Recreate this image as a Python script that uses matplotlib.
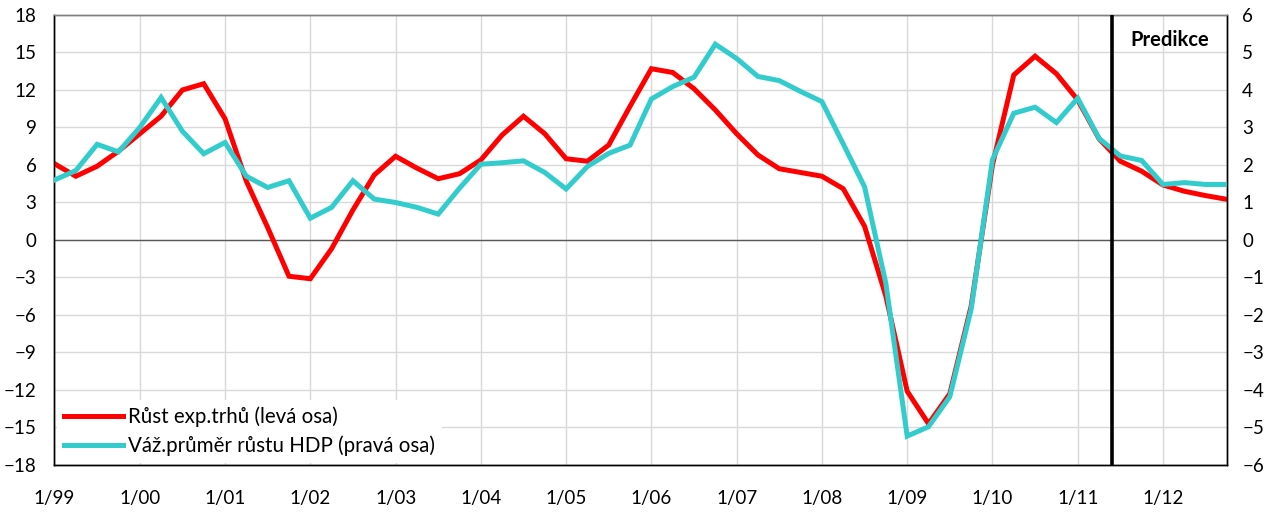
#!/usr/bin/env python3
"""
Export market growth vs weighted GDP growth of trading partners (quarterly, 1999-2012)
"""

import numpy as np
import matplotlib
matplotlib.use('Agg')
import matplotlib.pyplot as plt

plt.rcParams['font.family'] = ['Lato', 'Noto Sans', 'DejaVu Sans']

# Quarterly data, 1Q1999 .. 4Q2012
export_markets = [6.1, 5.1, 5.9, 7.1, 8.5, 9.9, 12.0, 12.5, 9.7, 4.7,
                  1.0, -2.9, -3.1, -0.7, 2.4, 5.2, 6.7, 5.75, 4.9, 5.3,
                  6.4, 8.4, 9.9, 8.5, 6.5, 6.3, 7.6, 10.7, 13.7, 13.4,
                  12.1, 10.4, 8.5, 6.8, 5.7, 5.4, 5.1, 4.1, 1.1, -4.5,
                  -12.1, -14.7, -12.3, -5.3, 6.0, 13.2, 14.7, 13.3, 11.2, 8.1,
                  6.3, 5.5, 4.4, 3.9, 3.55, 3.25]
gdp_weighted = [1.6, 1.85, 2.55, 2.35, 3.0, 3.8, 2.9, 2.3, 2.6, 1.7,
                1.4, 1.58, 0.58, 0.87, 1.58, 1.09, 1.0, 0.87, 0.69, 1.38,
                2.02, 2.06, 2.11, 1.8, 1.36, 1.96, 2.31, 2.53, 3.76, 4.09,
                4.34, 5.22, 4.84, 4.36, 4.25, 3.96, 3.69, 2.56, 1.42, -1.16,
                -5.23, -4.98, -4.18, -1.85, 2.14, 3.38, 3.54, 3.13, 3.78, 2.71,
                2.24, 2.12, 1.48, 1.53, 1.48, 1.48]
year_labels = ['1/99', '1/00', '1/01', '1/02', '1/03', '1/04', '1/05',
               '1/06', '1/07', '1/08', '1/09', '1/10', '1/11', '1/12']
forecast_start = 49.6  # quarter index where the prediction begins

RED = '#FF0000'
CYAN = '#33CCCC'
GRID = '#D9D9D9'


def main():
    quarters = np.arange(len(export_markets))

    fig = plt.figure(figsize=(12.7, 5.13), dpi=100)
    ax = fig.add_axes([0.0429, 0.0936, 0.9232, 0.8772])
    ax2 = ax.twinx()

    # Grid on the left axis
    ax.set_xlim(0, len(quarters) - 1)
    ax.set_ylim(-18, 18)
    ax.set_yticks(np.arange(-18, 19, 3))
    ax.set_xticks(np.arange(0, len(quarters), 4))
    ax.set_xticklabels(year_labels)
    ax.grid(True, color=GRID, linewidth=1)
    ax.set_axisbelow(True)
    ax.axhline(0, color='#595959', linewidth=1, zorder=1)

    ax2.set_ylim(-6, 6)
    ax2.set_yticks(np.arange(-6, 7, 1))

    l1, = ax.plot(quarters, export_markets, color=RED, linewidth=3.6,
                  solid_joinstyle='miter', label='Růst exp.trhů (levá osa)', zorder=3)
    l2, = ax2.plot(quarters, gdp_weighted, color=CYAN, linewidth=3.6,
                   solid_joinstyle='miter', label='Váž.průměr růstu HDP (pravá osa)', zorder=3)

    # Forecast separator
    ax2.axvline(forecast_start, color='black', linewidth=2.6, zorder=4)
    ax2.text(0.951, 0.945, 'Predikce', transform=ax2.transAxes, ha='center',
             va='center', fontsize=14.5, fontweight='bold')

    for a in (ax, ax2):
        a.tick_params(length=0, labelsize=13.5)
        for s in a.spines.values():
            s.set_color('#000000')
            s.set_linewidth(1)
        a.spines['top'].set_color('#808080')
    ax.tick_params(axis='x', pad=18)
    ax.tick_params(axis='y', pad=13)
    ax2.tick_params(axis='y', pad=11)

    leg = ax2.legend(handles=[l1, l2], loc='lower left', bbox_to_anchor=(0.0, 0.0),
                     borderaxespad=0.1, fontsize=14.8, handlelength=2.9,
                     handletextpad=0.22, labelspacing=0.38, frameon=True,
                     fancybox=False, borderpad=0.35)
    leg.get_frame().set_facecolor('white')
    leg.get_frame().set_edgecolor('none')
    leg.get_frame().set_alpha(1)
    leg.set_zorder(5)

    fig.savefig('out.png', dpi=100, facecolor='white')


if __name__ == "__main__":
    main()
